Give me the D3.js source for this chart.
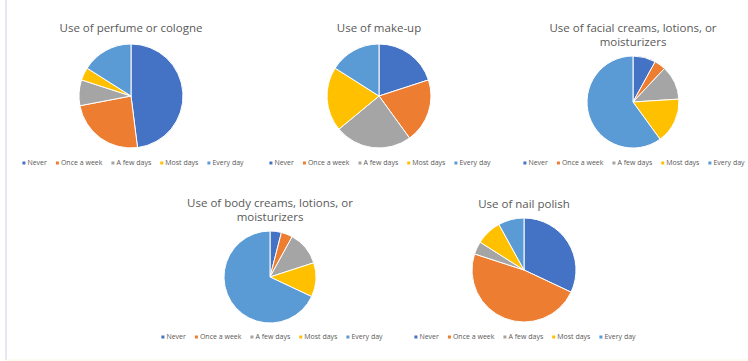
<!DOCTYPE html>
<html>
<head>
<meta charset="utf-8">
<script src="https://cdn.jsdelivr.net/npm/d3@7"></script>
<style>
  body { margin: 0; background: #fff; }
  svg { display: block; }
  text { font-family: "Open Sans", "DejaVu Sans", sans-serif; fill: #595959; }
</style>
</head>
<body>
<div id="chart"></div>
<script>
// Categories and colours (Office palette)
const categories = ["Never", "Once a week", "A few days", "Most days", "Every day"];
const colors = ["#4472C4", "#ED7D31", "#A5A5A5", "#FFC000", "#5B9BD5"];

// Percent of respondents per category
const perfume = [48, 24, 8, 4, 16];
const makeup = [20, 20, 24, 20, 16];
const facial = [8, 4, 12, 16, 60];
const body = [4, 4, 12, 12, 68];
const nails = [32, 48, 4, 8, 8];

const titles = [
  ["Use of perfume or cologne"],
  ["Use of make-up"],
  ["Use of facial creams, lotions, or", "moisturizers"],
  ["Use of body creams, lotions, or", "moisturizers"],
  ["Use of nail polish"]
];

const W = 748, H = 361;

// layout per panel: center, radius, title y, legend center/y
const panels = [
  { values: perfume, cx: 131, cy: 96, r: 52, ty: 32, ly: 163, lx: 133 },
  { values: makeup, cx: 379, cy: 96, r: 52, ty: 32, ly: 163, lx: 380 },
  { values: facial, cx: 633, cy: 102, r: 46, ty: 32, ly: 163, lx: 634 },
  { values: body, cx: 270, cy: 277, r: 46, ty: 207, ly: 337, lx: 272 },
  { values: nails, cx: 524, cy: 270, r: 52, ty: 208, ly: 337, lx: 525 }
];

const svg = d3.select("#chart").append("svg")
  .attr("width", W)
  .attr("height", H);

// frame lines from the slide
svg.append("line")
  .attr("x1", 6).attr("x2", 6).attr("y1", 0).attr("y2", 360)
  .attr("stroke", "#dde0ee").attr("stroke-width", 1.5);
svg.append("line")
  .attr("x1", 6).attr("x2", W).attr("y1", 360).attr("y2", 360)
  .attr("stroke", "#fbf6e0").attr("stroke-width", 1);

const pie = d3.pie().sort(null).value(d => d);

panels.forEach((p, i) => {
  const g = svg.append("g");

  // title
  const t = g.append("text")
    .attr("x", p.cx)
    .attr("y", p.ty)
    .attr("text-anchor", "middle")
    .style("font-size", "11.5px");
  titles[i].forEach((line, k) => {
    t.append("tspan").attr("x", p.cx).attr("dy", k === 0 ? 0 : 14).text(line);
  });

  // slices
  const arc = d3.arc().innerRadius(0).outerRadius(p.r);
  g.append("g")
    .attr("transform", `translate(${p.cx},${p.cy})`)
    .selectAll("path")
    .data(pie(p.values))
    .join("path")
    .attr("d", arc)
    .attr("fill", (d, j) => colors[j])
    .attr("stroke", "#fff")
    .attr("stroke-width", 1);

  // legend
  const lg = g.append("g");
  const items = lg.selectAll("g").data(categories).join("g");
  items.append("rect")
    .attr("width", 3).attr("height", 3)
    .attr("y", -3.5)
    .attr("fill", (d, j) => colors[j]);
  items.append("text")
    .attr("x", 5)
    .attr("y", 0)
    .style("font-size", "7px")
    .text(d => d);
  let x = 0;
  items.each(function () {
    const w = d3.select(this).select("text").node().getComputedTextLength();
    d3.select(this).attr("transform", `translate(${x},0)`);
    x += 5 + w + 9;
  });
  const total = x - 9;
  lg.attr("transform", `translate(${p.lx - total / 2},${p.ly + 2})`);
});
</script>
</body>
</html>
